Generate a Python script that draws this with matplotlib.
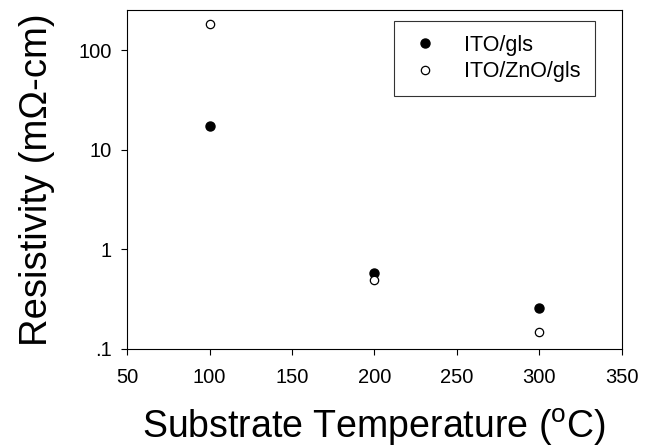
import matplotlib
matplotlib.use("Agg")
import matplotlib.pyplot as plt
from matplotlib.ticker import FixedLocator, FixedFormatter, NullLocator

plt.rcParams["font.family"] = ["Liberation Sans", "DejaVu Sans"]
plt.rcParams["mathtext.default"] = "regular"

# 基底温度 vs 电阻率
temps = [100, 200, 300]
rho_ito_gls = [17.5, 0.58, 0.26]
rho_ito_zno_gls = [182, 0.49, 0.147]

x_ticks = [50, 100, 150, 200, 250, 300, 350]
y_ticks = [0.1, 1, 10, 100]
y_ticklabels = [".1", "1", "10", "100"]

fig = plt.figure(figsize=(6.45, 4.48), dpi=100)
ax = fig.add_axes([0.197, 0.221, 0.767, 0.757])

ax.plot(temps, rho_ito_gls, "o", color="black", ms=6.5, ls="none",
        label="ITO/gls")
ax.plot(temps, rho_ito_zno_gls, "o", mfc="white", mec="black", mew=0.9,
        ms=6, ls="none", label="ITO/ZnO/gls")

ax.set_yscale("log")
ax.set_xlim(50, 350)
ax.set_ylim(0.1, 255)
ax.xaxis.set_major_locator(FixedLocator(x_ticks))
ax.yaxis.set_major_locator(FixedLocator(y_ticks))
ax.yaxis.set_major_formatter(FixedFormatter(y_ticklabels))
ax.yaxis.set_minor_locator(NullLocator())
ax.tick_params(direction="out", length=4, width=0.8, labelsize=14.5,
               top=False, right=False)
ax.tick_params(axis="x", pad=10)
ax.tick_params(axis="y", pad=7)

for s in ax.spines.values():
    s.set_linewidth(0.8)

ax.set_xlabel("Substrate Temperature ($^{o}$C)", fontsize=27, labelpad=14)
ax.set_ylabel("Resistivity (m\u03a9-cm)", fontsize=27.5, labelpad=17)

leg = ax.legend(loc="upper right", bbox_to_anchor=(0.945, 0.968),
                borderaxespad=0, fontsize=15.5,
                frameon=True, fancybox=False, edgecolor="black",
                handletextpad=1.0, borderpad=0.65, labelspacing=0.25,
                handlelength=1.6)
leg.get_frame().set_linewidth(0.8)

plt.savefig("out.png", dpi=100)
